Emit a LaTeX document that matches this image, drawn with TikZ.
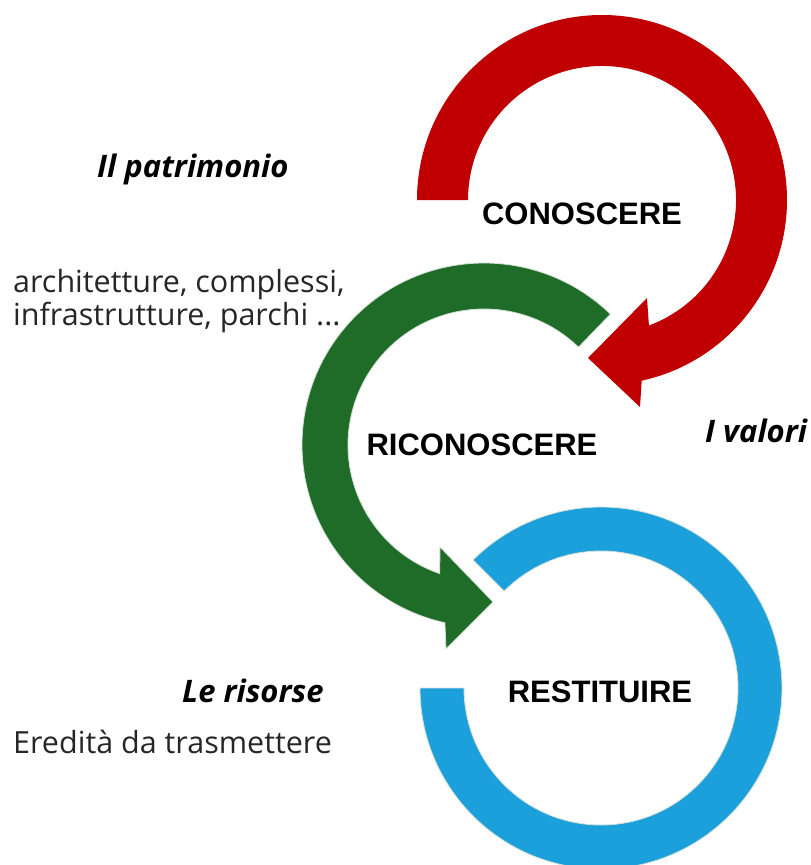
\documentclass[tikz,border=0pt]{standalone}
\usepackage{fontspec}
\setmainfont{Open Sans}
\newfontfamily\labelfont{Liberation Sans}
\definecolor{cred}{RGB}{192,0,0}
\definecolor{cgreen}{RGB}{30,108,40}
\definecolor{cblue}{RGB}{28,160,220}
\definecolor{halo}{RGB}{215,225,215}
\begin{document}
\begin{tikzpicture}[x=1pt,y=1pt,
  ring/.style={line width=0.8pt, line join=miter},
  title/.style={font=\labelfont\bfseries\fontsize{31}{36}\selectfont, inner sep=0pt, anchor=base},
  heading/.style={font=\bfseries\itshape\fontsize{31}{36}\selectfont, inner sep=0pt, anchor=base west},
  body/.style={font=\fontsize{30.5}{36}\selectfont, inner sep=0pt, anchor=base west, text=black!85}]
\useasboundingbox (0,0) rectangle (811,-865);
\clip (0,0) rectangle (811,-865);
% red arrow
\fill[cred] ([shift={(602,-200)}]180:185) arc[start angle=180,end angle=-77.6,radius=185]
  -- (640,-407) -- (588,-358) -- (647,-298)
  -- ([shift={(602,-200)}]-69.5:134) arc[start angle=-69.5,end angle=180,radius=134] -- cycle;
% green arrow
\filldraw[ring, fill=cgreen, draw=halo] ([shift={(484,-445)}]46:182) arc[start angle=46,end angle=257.6,radius=182]
  -- (446,-649) -- (493,-602) -- (440,-547)
  -- ([shift={(484,-445)}]251:136) arc[start angle=251,end angle=46,radius=136] -- cycle;
% blue ring
\filldraw[ring, fill=cblue, draw=halo] ([shift={(601,-688)}]180:181) arc[start angle=180,end angle=495,radius=181]
  -- ([shift={(601,-688)}]135:137) arc[start angle=135,end angle=-180,radius=137] -- cycle;
% titles
\node[title] (conoscere) at (582,-224) {CONOSCERE};
\node[title] (riconoscere) at (482,-455) {RICONOSCERE};
\node[title] (restituire) at (600,-702) {RESTITUIRE};
% side texts
\node[heading] (patrimonio) at (97,-177) {Il patrimonio};
\node[body] (arch) at (13,-292) {architetture, complessi,};
\node[body] (infra) at (13,-325) {infrastrutture, parchi ...};
\node[heading] (valori) at (705,-442) {I valori};
\node[heading] (risorse) at (182,-702) {Le risorse};
\node[body] (eredita) at (13,-753) {Eredità da trasmettere};
\end{tikzpicture}
\end{document}
